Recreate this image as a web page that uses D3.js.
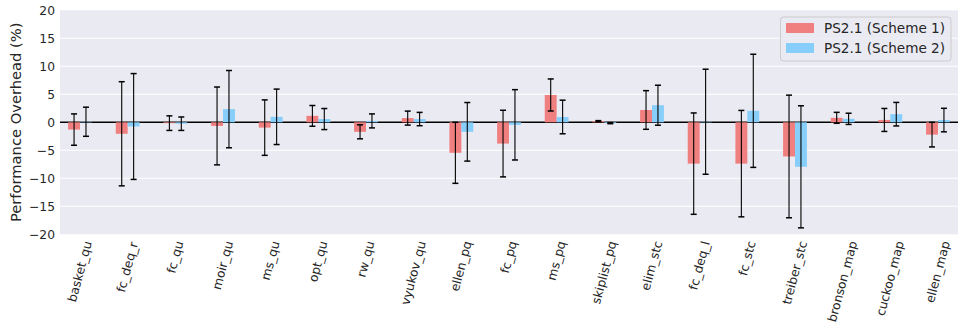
<!DOCTYPE html>
<html>
<head>
<meta charset="utf-8">
<script src="https://cdn.jsdelivr.net/npm/d3@7"></script>
<style>
  html, body { margin: 0; padding: 0; background: #ffffff; }
  svg { display: block; font-family: "DejaVu Sans", sans-serif; }
</style>
</head>
<body>
<svg id="chart" width="963" height="335"></svg>
<script>
const categories = ["basket_qu", "fc_deq_r", "fc_qu", "moir_qu", "ms_qu", "opt_qu", "rw_qu", "vyukov_qu",
  "ellen_pq", "fc_pq", "ms_pq", "skiplist_pq", "elim_stc", "fc_deq_l", "fc_stc", "treiber_stc",
  "bronson_map", "cuckoo_map", "ellen_map"];
const seriesNames = ["PS2.1 (Scheme 1)", "PS2.1 (Scheme 2)"];
const scheme1 = [-1.3, -2.05, -0.15, -0.65, -0.95, 1.15, -1.7, 0.75, -5.45, -3.8, 4.88, 0.2, 2.2, -7.38, -7.38, -6.1, 0.8, 0.42, -2.2];
const scheme1Err = [2.8, 9.3, 1.3, 6.95, 4.95, 1.85, 1.25, 1.25, 5.45, 5.95, 2.86, 0.1, 3.45, 9.05, 9.5, 10.95, 0.98, 2.05, 2.2];
const scheme2 = [0.1, -0.75, -0.25, 2.35, 0.98, 0.58, 0.25, 0.58, -1.7, -0.45, 0.95, -0.15, 3.05, 0.1, 2.05, -7.95, 0.62, 1.45, 0.4];
const scheme2Err = [2.6, 9.45, 1.2, 6.9, 4.95, 1.88, 1.25, 1.19, 5.23, 6.28, 3.0, 0.1, 3.57, 9.38, 10.1, 10.9, 1.0, 2.1, 2.1];
const yTicks = [-20, -15, -10, -5, 0, 5, 10, 15, 20];
const colors = ["#f08080", "#87cefa"];

const svg = d3.select("#chart");
const plot = { left: 60, right: 958, top: 10.3, bottom: 234.3 };

const x = d3.scaleBand().domain(categories).range([plot.left, plot.right])
  .paddingInner(0.5).paddingOuter(0.17);
const y = d3.scaleLinear().domain([-20, 20]).range([plot.bottom, plot.top]);

// background
svg.append("rect").attr("x", plot.left).attr("y", plot.top)
  .attr("width", plot.right - plot.left).attr("height", plot.bottom - plot.top)
  .attr("fill", "#eaeaf2");

// grid
svg.append("g").selectAll("line").data(yTicks.filter(t => t > -20 && t < 20)).join("line")
  .attr("x1", plot.left).attr("x2", plot.right)
  .attr("y1", d => y(d)).attr("y2", d => y(d))
  .attr("stroke", "#ffffff").attr("stroke-width", 1.1);

// y axis labels
const yAxis = d3.axisLeft(y).tickValues(yTicks).tickSize(0).tickPadding(5)
  .tickFormat(d => d < 0 ? "\u2212" + Math.abs(d) : String(d));
const gy = svg.append("g").attr("transform", `translate(${plot.left},0)`).call(yAxis);
gy.select(".domain").remove();
gy.selectAll("text").attr("font-size", 12.3).attr("fill", "#262626")
  .attr("font-family", "DejaVu Sans");

// zero line
svg.append("line").attr("x1", plot.left).attr("x2", plot.right)
  .attr("y1", y(0)).attr("y2", y(0)).attr("stroke", "#000").attr("stroke-width", 1.6);

const series = [
  { vals: scheme1, errs: scheme1Err, off: 0 },
  { vals: scheme2, errs: scheme2Err, off: 1 }
];
const half = x.bandwidth() / 2;

series.forEach((s, si) => {
  const g = svg.append("g");
  g.selectAll("rect").data(categories).join("rect")
    .attr("x", d => x(d) + s.off * half)
    .attr("width", half)
    .attr("y", (d, i) => y(Math.max(0, s.vals[i])))
    .attr("height", (d, i) => Math.abs(y(s.vals[i]) - y(0)))
    .attr("fill", colors[si]);
});

series.forEach((s) => {
  const g = svg.append("g").attr("stroke", "#000");
  categories.forEach((c, i) => {
    const cx = x(c) + s.off * half + half / 2;
    const top = y(s.vals[i] + s.errs[i]);
    const bot = y(s.vals[i] - s.errs[i]);
    g.append("line").attr("x1", cx).attr("x2", cx).attr("y1", top).attr("y2", bot)
      .attr("stroke-width", 1.1);
    [top, bot].forEach(yy => {
      g.append("line").attr("x1", cx - 3).attr("x2", cx + 3).attr("y1", yy).attr("y2", yy)
        .attr("stroke-width", 1.5);
    });
  });
});

// x labels rotated 75deg, bbox centered on tick, top aligned
categories.forEach(c => {
  const g = svg.append("g");
  g.append("text").text(c)
    .attr("transform", "rotate(-75)")
    .attr("font-size", 12.3).attr("fill", "#262626")
    .attr("font-family", "DejaVu Sans");
  const bb = g.node().getBBox();
  const cx = x(c) + x.bandwidth() / 2;
  g.attr("transform", `translate(${cx - (bb.x + bb.width / 2)},${239.5 - bb.y})`);
});

// y label
svg.append("text").text("Performance Overhead (%)")
  .attr("transform", `translate(21,${(plot.top + plot.bottom) / 2}) rotate(-90)`)
  .attr("text-anchor", "middle").attr("font-size", 14.7).attr("fill", "#262626")
  .attr("font-family", "DejaVu Sans");

// legend
const lg = svg.append("g");
lg.append("rect").attr("x", 780.5).attr("y", 17).attr("width", 170.5).attr("height", 44)
  .attr("rx", 3).attr("fill", "#eaeaf2").attr("fill-opacity", 0.8)
  .attr("stroke", "#cccccc").attr("stroke-width", 1);
seriesNames.forEach((n, i) => {
  lg.append("rect").attr("x", 786).attr("y", 23 + i * 20).attr("width", 28).attr("height", 10)
    .attr("fill", colors[i]);
  lg.append("text").text(n).attr("x", 824).attr("y", 28 + i * 20).attr("dy", "0.36em")
    .attr("font-size", 13.6).attr("fill", "#262626").attr("font-family", "DejaVu Sans");
});
</script>
</body>
</html>
